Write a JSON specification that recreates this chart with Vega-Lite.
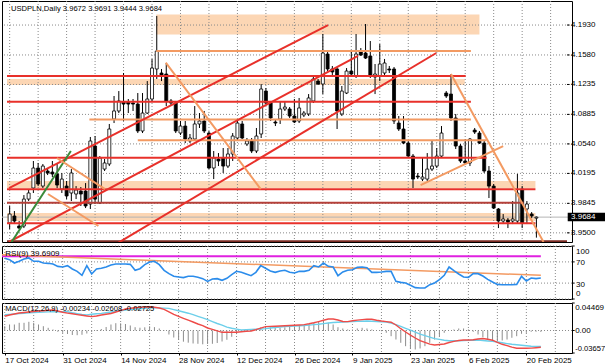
{
"$schema": "https://vega.github.io/schema/vega-lite/v6.json",
"padding": 0,
"background": "white",
"spacing": 2,
"resolve": {"scale": {"color": "independent", "strokeWidth": "independent"}},
"config": {
  "view": {"stroke": "#000000", "strokeWidth": 1},
  "axis": {"labelFont": "Liberation Sans", "labelFontSize": 8, "labelColor": "#000000", "domain": false, "tickColor": "#000000", "grid": false, "labelOverlap": false},
  "text": {"font": "Liberation Sans", "fontSize": 8, "color": "#000000"}
},
"datasets": {
  "bars": [
    {"i":0,"o":3.9615,"h":3.9814,"l":3.9544,"c":3.9720,"rsi":76.8,"macd":0.02324,"sig":0.02551,"hist":0.00699},
    {"i":1,"o":3.9697,"h":3.9755,"l":3.9603,"c":3.9638,"rsi":74.2,"macd":0.02519,"sig":0.02616,"hist":0.00975},
    {"i":2,"o":3.9580,"h":3.9638,"l":3.9544,"c":3.9556,"rsi":67.9,"macd":0.02681,"sig":0.02681,"hist":0.00975},
    {"i":3,"o":3.9580,"h":3.9942,"l":3.9556,"c":3.9895,"rsi":71.1,"macd":0.02844,"sig":0.02763,"hist":0.01251},
    {"i":4,"o":3.9895,"h":4.0012,"l":3.9872,"c":3.9966,"rsi":75.5,"macd":0.02925,"sig":0.02811,"hist":0.01251},
    {"i":5,"o":4.0024,"h":4.0340,"l":3.9966,"c":4.0258,"rsi":77.4,"macd":0.03006,"sig":0.0286,"hist":0.01414},
    {"i":6,"o":4.0258,"h":4.0317,"l":4.0047,"c":4.0071,"rsi":71.1,"macd":0.03088,"sig":0.02909,"hist":0.01251},
    {"i":7,"o":4.0047,"h":4.0305,"l":4.0024,"c":4.0281,"rsi":71.1,"macd":0.03169,"sig":0.02941,"hist":0.00975},
    {"i":8,"o":4.0223,"h":4.0258,"l":4.0176,"c":4.0200,"rsi":67.9,"macd":0.03218,"sig":0.0299,"hist":0.00699},
    {"i":9,"o":4.0211,"h":4.0340,"l":4.0153,"c":4.0188,"rsi":67.3,"macd":0.03283,"sig":0.03023,"hist":0.00439},
    {"i":10,"o":4.0188,"h":4.0317,"l":4.0024,"c":4.0059,"rsi":66.0,"macd":0.03331,"sig":0.03055,"hist":0.00163},
    {"i":11,"o":4.0012,"h":4.0200,"l":3.9966,"c":4.0129,"rsi":61.6,"macd":0.03169,"sig":0.03055,"hist":-0.00211},
    {"i":12,"o":4.0047,"h":4.0106,"l":3.9895,"c":3.9931,"rsi":60.4,"macd":0.02958,"sig":0.03055,"hist":-0.00374},
    {"i":13,"o":3.9966,"h":4.0246,"l":3.9872,"c":4.0200,"rsi":62.9,"macd":0.02828,"sig":0.03055,"hist":-0.00569},
    {"i":14,"o":3.9954,"h":4.0047,"l":3.9895,"c":4.0001,"rsi":56.6,"macd":0.02714,"sig":0.02876,"hist":-0.00731},
    {"i":15,"o":3.9989,"h":4.0036,"l":3.9814,"c":3.9954,"rsi":52.2,"macd":0.02584,"sig":0.0273,"hist":-0.00764},
    {"i":16,"o":3.9989,"h":4.0082,"l":3.9790,"c":3.9814,"rsi":44.7,"macd":0.0247,"sig":0.026,"hist":-0.00699},
    {"i":17,"o":3.9837,"h":4.0621,"l":3.9779,"c":4.0574,"rsi":62.9,"macd":0.02356,"sig":0.02535,"hist":-0.00488},
    {"i":18,"o":4.0515,"h":4.0632,"l":3.9837,"c":3.9895,"rsi":47.2,"macd":0.02259,"sig":0.02633,"hist":-0.00244},
    {"i":19,"o":3.9849,"h":4.0398,"l":3.9837,"c":4.0375,"rsi":56.6,"macd":0.02356,"sig":0.02714,"hist":-0.00081},
    {"i":20,"o":4.0246,"h":4.0363,"l":4.0223,"c":4.0317,"rsi":57.9,"macd":0.02519,"sig":0.02779,"hist":0.00244},
    {"i":21,"o":4.0305,"h":4.0773,"l":4.0281,"c":4.0714,"rsi":60.4,"macd":0.02649,"sig":0.02893,"hist":0.00569},
    {"i":22,"o":4.0831,"h":4.1100,"l":4.0784,"c":4.0925,"rsi":64.1,"macd":0.02763,"sig":0.03006,"hist":0.00975},
    {"i":23,"o":4.0925,"h":4.1158,"l":4.0901,"c":4.1042,"rsi":66.0,"macd":0.03006,"sig":0.0312,"hist":0.01186},
    {"i":24,"o":4.1030,"h":4.1369,"l":4.0808,"c":4.1006,"rsi":66.0,"macd":0.03218,"sig":0.03218,"hist":0.0117},
    {"i":25,"o":4.1030,"h":4.1065,"l":4.0901,"c":4.1006,"rsi":66.0,"macd":0.03494,"sig":0.03331,"hist":0.01056},
    {"i":26,"o":4.1018,"h":4.1065,"l":4.0925,"c":4.1006,"rsi":65.4,"macd":0.03624,"sig":0.03413,"hist":0.00813},
    {"i":27,"o":4.1006,"h":4.1135,"l":4.0667,"c":4.0691,"rsi":54.1,"macd":0.03689,"sig":0.03494,"hist":0.00536},
    {"i":28,"o":4.0691,"h":4.1135,"l":4.0667,"c":4.0901,"rsi":57.2,"macd":0.03754,"sig":0.03543,"hist":0.00455},
    {"i":29,"o":4.0901,"h":4.1275,"l":4.0890,"c":4.1065,"rsi":64.8,"macd":0.03819,"sig":0.03608,"hist":0.0052},
    {"i":30,"o":4.1065,"h":4.1533,"l":4.1042,"c":4.1427,"rsi":69.8,"macd":0.03868,"sig":0.03673,"hist":0.00683},
    {"i":31,"o":4.1416,"h":4.2036,"l":4.1299,"c":4.1626,"rsi":71.1,"macd":0.0377,"sig":0.03689,"hist":0.00553},
    {"i":32,"o":4.1369,"h":4.1416,"l":4.1275,"c":4.1334,"rsi":64.8,"macd":0.03656,"sig":0.03673,"hist":0.00325},
    {"i":33,"o":4.1357,"h":4.1486,"l":4.0983,"c":4.1042,"rsi":54.1,"macd":0.03445,"sig":0.0364,"hist":-0.00081},
    {"i":34,"o":4.1042,"h":4.1065,"l":4.0983,"c":4.1018,"rsi":47.8,"macd":0.03039,"sig":0.03591,"hist":-0.0065},
    {"i":35,"o":4.1018,"h":4.1042,"l":4.0667,"c":4.0691,"rsi":42.8,"macd":0.02616,"sig":0.03396,"hist":-0.01138},
    {"i":36,"o":4.0667,"h":4.0808,"l":4.0644,"c":4.0749,"rsi":41.5,"macd":0.02308,"sig":0.03201,"hist":-0.01544},
    {"i":37,"o":4.0749,"h":4.0808,"l":4.0550,"c":4.0597,"rsi":40.3,"macd":0.01983,"sig":0.03006,"hist":-0.0182},
    {"i":38,"o":4.0574,"h":4.0656,"l":4.0550,"c":4.0609,"rsi":42.8,"macd":0.01674,"sig":0.02811,"hist":-0.01983},
    {"i":39,"o":4.0597,"h":4.0983,"l":4.0574,"c":4.0773,"rsi":42.8,"macd":0.01381,"sig":0.02568,"hist":-0.02113},
    {"i":40,"o":4.0773,"h":4.0901,"l":4.0726,"c":4.0808,"rsi":40.9,"macd":0.01056,"sig":0.02308,"hist":-0.02161},
    {"i":41,"o":4.0808,"h":4.0925,"l":4.0667,"c":4.0691,"rsi":38.4,"macd":0.0078,"sig":0.02048,"hist":-0.02243},
    {"i":42,"o":4.0667,"h":4.0691,"l":4.0246,"c":4.0258,"rsi":33.3,"macd":0.00406,"sig":0.01771,"hist":-0.02194},
    {"i":43,"o":4.0258,"h":4.0457,"l":4.0129,"c":4.0375,"rsi":37.7,"macd":0.00179,"sig":0.01446,"hist":-0.02161},
    {"i":44,"o":4.0363,"h":4.0433,"l":4.0281,"c":4.0340,"rsi":38.4,"macd":-0.00065,"sig":0.01138,"hist":-0.02031},
    {"i":45,"o":4.0375,"h":4.0492,"l":4.0200,"c":4.0281,"rsi":35.2,"macd":-0.00293,"sig":0.00861,"hist":-0.01788},
    {"i":46,"o":4.0281,"h":4.0492,"l":4.0258,"c":4.0422,"rsi":39.0,"macd":-0.00293,"sig":0.00553,"hist":-0.01511},
    {"i":47,"o":4.0422,"h":4.0667,"l":4.0340,"c":4.0632,"rsi":45.9,"macd":-0.00293,"sig":0.00374,"hist":-0.01024},
    {"i":48,"o":4.0609,"h":4.0808,"l":4.0574,"c":4.0784,"rsi":52.2,"macd":-0.00276,"sig":0.00228,"hist":-0.00601},
    {"i":49,"o":4.0773,"h":4.0808,"l":4.0597,"c":4.0609,"rsi":50.3,"macd":-0.00211,"sig":0.00081,"hist":-0.00244},
    {"i":50,"o":4.0539,"h":4.0609,"l":4.0515,"c":4.0574,"rsi":47.2,"macd":-0.0013,"sig":0.00114,"hist":-0.00211},
    {"i":51,"o":4.0574,"h":4.0609,"l":4.0433,"c":4.0457,"rsi":44.0,"macd":-0.00081,"sig":0.00163,"hist":-0.00114},
    {"i":52,"o":4.0457,"h":4.0726,"l":4.0433,"c":4.0632,"rsi":50.3,"macd":0.0013,"sig":0.00195,"hist":0.00244},
    {"i":53,"o":4.0656,"h":4.1240,"l":4.0609,"c":4.1182,"rsi":62.9,"macd":0.00374,"sig":0.00244,"hist":0.00488},
    {"i":54,"o":4.1158,"h":4.1194,"l":4.1006,"c":4.1018,"rsi":57.9,"macd":0.00634,"sig":0.00309,"hist":0.00536},
    {"i":55,"o":4.1018,"h":4.1042,"l":4.0808,"c":4.0843,"rsi":52.9,"macd":0.00666,"sig":0.00406,"hist":0.00536},
    {"i":56,"o":4.0796,"h":4.0831,"l":4.0749,"c":4.0784,"rsi":50.3,"macd":0.00699,"sig":0.00488,"hist":0.00439},
    {"i":57,"o":4.0831,"h":4.1042,"l":4.0773,"c":4.0948,"rsi":52.9,"macd":0.00731,"sig":0.00569,"hist":0.00439},
    {"i":58,"o":4.0948,"h":4.1042,"l":4.0925,"c":4.0971,"rsi":54.1,"macd":0.0078,"sig":0.00634,"hist":0.0052},
    {"i":59,"o":4.0948,"h":4.0971,"l":4.0843,"c":4.0866,"rsi":50.3,"macd":0.00813,"sig":0.00666,"hist":0.00683},
    {"i":60,"o":4.0866,"h":4.1065,"l":4.0784,"c":4.0796,"rsi":49.1,"macd":0.00845,"sig":0.00715,"hist":0.00699},
    {"i":61,"o":4.0808,"h":4.1077,"l":4.0784,"c":4.0960,"rsi":52.2,"macd":0.00894,"sig":0.00764,"hist":0.00731},
    {"i":62,"o":4.0878,"h":4.0925,"l":4.0854,"c":4.0901,"rsi":52.2,"macd":0.00959,"sig":0.00813,"hist":0.00975},
    {"i":63,"o":4.0890,"h":4.1123,"l":4.0866,"c":4.1077,"rsi":54.1,"macd":0.01089,"sig":0.00878,"hist":0.01089},
    {"i":64,"o":4.1042,"h":4.1334,"l":4.1018,"c":4.1299,"rsi":62.9,"macd":0.01251,"sig":0.00959,"hist":0.01251},
    {"i":65,"o":4.1275,"h":4.1299,"l":4.1229,"c":4.1240,"rsi":60.4,"macd":0.01446,"sig":0.01024,"hist":0.01414},
    {"i":66,"o":4.1240,"h":4.1825,"l":4.1123,"c":4.1603,"rsi":67.9,"macd":0.01658,"sig":0.01121,"hist":0.01414},
    {"i":67,"o":4.1591,"h":4.1626,"l":4.1392,"c":4.1416,"rsi":61.6,"macd":0.01869,"sig":0.01219,"hist":0.01251},
    {"i":68,"o":4.1416,"h":4.1451,"l":4.1334,"c":4.1381,"rsi":60.4,"macd":0.01869,"sig":0.013,"hist":0.00975},
    {"i":69,"o":4.1416,"h":4.1439,"l":4.0714,"c":4.0925,"rsi":44.0,"macd":0.01706,"sig":0.01349,"hist":0.00536},
    {"i":70,"o":4.0890,"h":4.1217,"l":4.0866,"c":4.1158,"rsi":51.0,"macd":0.01463,"sig":0.01381,"hist":0.00325},
    {"i":71,"o":4.1135,"h":4.1427,"l":4.1123,"c":4.1392,"rsi":54.1,"macd":0.01446,"sig":0.01398,"hist":0.00163},
    {"i":72,"o":4.1392,"h":4.1626,"l":4.1334,"c":4.1357,"rsi":55.3,"macd":0.01576,"sig":0.01446,"hist":0.00163},
    {"i":73,"o":4.1334,"h":4.1825,"l":4.1311,"c":4.1591,"rsi":59.7,"macd":0.0169,"sig":0.01479,"hist":0.00325},
    {"i":74,"o":4.1615,"h":4.1661,"l":4.1568,"c":4.1579,"rsi":60.4,"macd":0.01771,"sig":0.01511,"hist":0.00439},
    {"i":75,"o":4.1603,"h":4.1942,"l":4.1533,"c":4.1544,"rsi":59.1,"macd":0.01853,"sig":0.01544,"hist":0.00325},
    {"i":76,"o":4.1568,"h":4.1743,"l":4.1311,"c":4.1334,"rsi":50.3,"macd":0.01836,"sig":0.01511,"hist":0.00163},
    {"i":77,"o":4.1322,"h":4.1474,"l":4.1123,"c":4.1357,"rsi":50.3,"macd":0.01674,"sig":0.01463,"hist":0.0},
    {"i":78,"o":4.1334,"h":4.1708,"l":4.1275,"c":4.1474,"rsi":51.0,"macd":0.01544,"sig":0.01414,"hist":-0.00114},
    {"i":79,"o":4.1369,"h":4.1533,"l":4.1334,"c":4.1486,"rsi":52.2,"macd":0.01446,"sig":0.01365,"hist":-0.00374},
    {"i":80,"o":4.1416,"h":4.1451,"l":4.1369,"c":4.1404,"rsi":52.2,"macd":0.01349,"sig":0.01203,"hist":-0.00926},
    {"i":81,"o":4.1416,"h":4.1439,"l":4.0773,"c":4.0808,"rsi":33.3,"macd":0.00894,"sig":0.00943,"hist":-0.01463},
    {"i":82,"o":4.0784,"h":4.0866,"l":4.0691,"c":4.0714,"rsi":31.4,"macd":0.00293,"sig":0.00683,"hist":-0.01999},
    {"i":83,"o":4.0714,"h":4.0866,"l":4.0539,"c":4.0550,"rsi":30.2,"macd":-0.00244,"sig":0.00358,"hist":-0.02551},
    {"i":84,"o":4.0550,"h":4.0574,"l":4.0375,"c":4.0398,"rsi":25.8,"macd":-0.00748,"sig":0.00049,"hist":-0.02925},
    {"i":85,"o":4.0398,"h":4.0422,"l":4.0024,"c":4.0129,"rsi":21.4,"macd":-0.01219,"sig":-0.00276,"hist":-0.03088},
    {"i":86,"o":4.0164,"h":4.0200,"l":4.0129,"c":4.0153,"rsi":20.8,"macd":-0.01641,"sig":-0.00585,"hist":-0.02925},
    {"i":87,"o":4.0129,"h":4.0375,"l":4.0106,"c":4.0153,"rsi":20.8,"macd":-0.01934,"sig":-0.00845,"hist":-0.02551},
    {"i":88,"o":4.0129,"h":4.0433,"l":4.0106,"c":4.0246,"rsi":27.0,"macd":-0.02226,"sig":-0.01089,"hist":-0.01999},
    {"i":89,"o":4.0246,"h":4.0574,"l":4.0223,"c":4.0281,"rsi":30.2,"macd":-0.02356,"sig":-0.01316,"hist":-0.01463},
    {"i":90,"o":4.0281,"h":4.0492,"l":4.0258,"c":4.0398,"rsi":36.5,"macd":-0.02275,"sig":-0.01446,"hist":-0.00926},
    {"i":91,"o":4.0398,"h":4.0749,"l":4.0375,"c":4.0667,"rsi":44.7,"macd":-0.02194,"sig":-0.01576,"hist":-0.00374},
    {"i":92,"o":4.1135,"h":4.1158,"l":4.1077,"c":4.1100,"rsi":60.4,"macd":-0.0195,"sig":-0.01658,"hist":0.0},
    {"i":93,"o":4.1123,"h":4.1357,"l":4.0808,"c":4.0843,"rsi":53.5,"macd":-0.01771,"sig":-0.01658,"hist":0.00163},
    {"i":94,"o":4.0843,"h":4.0890,"l":4.0480,"c":4.0515,"rsi":47.2,"macd":-0.01625,"sig":-0.01658,"hist":0.00325},
    {"i":95,"o":4.0515,"h":4.0539,"l":4.0317,"c":4.0340,"rsi":41.5,"macd":-0.01544,"sig":-0.01641,"hist":0.00325},
    {"i":96,"o":4.0340,"h":4.0597,"l":4.0305,"c":4.0317,"rsi":40.9,"macd":-0.01544,"sig":-0.01609,"hist":0.00163},
    {"i":97,"o":4.0317,"h":4.0609,"l":4.0281,"c":4.0597,"rsi":47.8,"macd":-0.01511,"sig":-0.01576,"hist":-0.00211},
    {"i":98,"o":4.0702,"h":4.0726,"l":4.0656,"c":4.0679,"rsi":47.8,"macd":-0.01381,"sig":-0.01544,"hist":-0.0065},
    {"i":99,"o":4.0667,"h":4.0691,"l":4.0539,"c":4.0550,"rsi":43.4,"macd":-0.013,"sig":-0.01625,"hist":-0.01089},
    {"i":100,"o":4.0550,"h":4.0574,"l":4.0200,"c":4.0223,"rsi":37.1,"macd":-0.0143,"sig":-0.01706,"hist":-0.01463},
    {"i":101,"o":4.0223,"h":4.0281,"l":3.9907,"c":4.0047,"rsi":32.0,"macd":-0.01576,"sig":-0.01771,"hist":-0.01625},
    {"i":102,"o":4.0047,"h":4.0071,"l":3.9779,"c":3.9790,"rsi":27.6,"macd":-0.01918,"sig":-0.01869,"hist":-0.01739},
    {"i":103,"o":3.9779,"h":3.9790,"l":3.9556,"c":3.9638,"rsi":27.0,"macd":-0.02243,"sig":-0.01999,"hist":-0.01625},
    {"i":104,"o":3.9638,"h":3.9720,"l":3.9603,"c":3.9662,"rsi":27.0,"macd":-0.02454,"sig":-0.02129,"hist":-0.01463},
    {"i":105,"o":3.9650,"h":3.9673,"l":3.9556,"c":3.9626,"rsi":27.0,"macd":-0.02714,"sig":-0.02243,"hist":-0.01186},
    {"i":106,"o":3.9638,"h":3.9872,"l":3.9603,"c":3.9662,"rsi":27.6,"macd":-0.02893,"sig":-0.02324,"hist":-0.00926},
    {"i":107,"o":3.9638,"h":4.0188,"l":3.9615,"c":3.9966,"rsi":42.8,"macd":-0.02893,"sig":-0.02405,"hist":-0.00536},
    {"i":108,"o":4.0012,"h":4.0047,"l":3.9556,"c":3.9615,"rsi":34.0,"macd":-0.02893,"sig":-0.02486,"hist":-0.00374},
    {"i":109,"o":3.9779,"h":3.9872,"l":3.9603,"c":3.9837,"rsi":39.6,"macd":-0.0286,"sig":-0.02551,"hist":-0.00211},
    {"i":110,"o":3.9720,"h":3.9743,"l":3.9673,"c":3.9697,"rsi":38.4,"macd":-0.02795,"sig":-0.02584,"hist":-0.00211},
    {"i":111,"o":3.9672,"h":3.9691,"l":3.9444,"c":3.9684,"rsi":39.6909,"macd":-0.02725,"sig":-0.02608,"hist":-0.00234}
  ],
  "bands": [
    {"x1":30.9,"x2":99.0,"p1":4.2053,"p2":4.1819},
    {"x1":-0.56,"x2":95.9,"p1":4.1299,"p2":4.1229},
    {"x1":-0.56,"x2":110.8,"p1":4.0106,"p2":4.0024},
    {"x1":-0.56,"x2":110.8,"p1":3.9732,"p2":3.9638}
  ],
  "lines": [
    {"kind":"red","x1":-0.56,"p1":4.1334,"x2":96.1,"p2":4.1334},
    {"kind":"red","x1":-0.56,"p1":4.1033,"x2":97.2,"p2":4.1033},
    {"kind":"red","x1":-0.56,"p1":4.0378,"x2":100.5,"p2":4.0378},
    {"kind":"red","x1":-0.56,"p1":4.0009,"x2":110.8,"p2":4.0009},
    {"kind":"darkred","x1":-0.56,"p1":3.9852,"x2":108.3,"p2":3.9852},
    {"kind":"red","x1":-0.56,"p1":3.9611,"x2":110.8,"p2":3.9611},
    {"kind":"brown","x1":-0.56,"p1":3.9403,"x2":117.45,"p2":3.9403},
    {"kind":"orange","x1":30.9,"p1":4.1626,"x2":97.2,"p2":4.1626},
    {"kind":"orange","x1":16.8,"p1":4.0826,"x2":97.2,"p2":4.0826},
    {"kind":"orange","x1":27.0,"p1":4.0582,"x2":100.5,"p2":4.0582},
    {"kind":"red","x1":-0.14,"p1":4.0024,"x2":67.1,"p2":4.1930},
    {"kind":"red","x1":-0.14,"p1":3.9393,"x2":73.4,"p2":4.1568},
    {"kind":"red","x1":22.8,"p1":3.9381,"x2":89.9,"p2":4.1603},
    {"kind":"green","x1":0.27,"p1":3.9381,"x2":12.9,"p2":4.0457},
    {"kind":"orange","x1":32.9,"p1":4.1490,"x2":52.9,"p2":4.0012},
    {"kind":"orange","x1":9.94,"p1":4.0375,"x2":20.1,"p2":4.0012},
    {"kind":"orange","x1":8.07,"p1":3.9954,"x2":18.7,"p2":3.9580},
    {"kind":"orange","x1":93.0,"p1":4.1357,"x2":112.5,"p2":3.9393},
    {"kind":"orange","x1":86.6,"p1":4.0059,"x2":104.0,"p2":4.0515}
  ],
  "rsiLines": [
    {"kind":"magenta","x1":-0.56,"v1":80.6,"x2":111,"v2":80.6},
    {"kind":"orange","x1":-0.56,"v1":83.6,"x2":111,"v2":44.7}
  ],
  "vgrid": [{"k":0},{"k":6},{"k":12},{"k":18},{"k":24},{"k":30},{"k":36},{"k":42},{"k":48},{"k":54},{"k":60},{"k":66},{"k":72},{"k":78},{"k":84},{"k":90},{"k":96},{"k":102},{"k":108},{"k":114}],
  "priceTicks": [
    {"v":4.193,"label":"4.1930"},{"v":4.158,"label":"4.1580"},{"v":4.1235,"label":"4.1235"},{"v":4.0885,"label":"4.0885"},
    {"v":4.054,"label":"4.0540"},{"v":4.0195,"label":"4.0195"},{"v":3.9845,"label":"3.9845"},{"v":3.95,"label":"3.9500"}
  ],
  "rsiTicks": [{"v":100,"label":"100","pos":"top"},{"v":70,"label":"70","pos":"mid"},{"v":30,"label":"30","pos":"mid"},{"v":0,"label":"0","pos":"bottom"}],
  "macdTicks": [{"v":0.04469,"label":"0.04469","pos":"top"},{"v":0,"label":"0.00","pos":"mid"},{"v":-0.03657,"label":"-0.03657","pos":"bottom"}]
},
"vconcat": [
  {
    "width": 570,
    "height": 241,
    "layer": [
      {
        "data": {"name": "bands"},
        "mark": {"type": "rect", "color": "#FCD6B4"},
        "encoding": {
          "x": {"field": "x1", "type": "quantitative", "axis": null, "scale": {"domain": [-0.56, 117.45], "nice": false, "zero": false}},
          "x2": {"field": "x2"},
          "y": {"field": "p1", "type": "quantitative", "axis": null, "scale": {"domain": [3.9393, 4.2211], "nice": false, "zero": false}},
          "y2": {"field": "p2"}
        }
      },
      {
        "data": {"name": "vgrid"},
        "mark": {"type": "rule", "color": "#8A8A8A", "strokeWidth": 1, "strokeDash": [1, 2]},
        "encoding": {"x": {"field": "k", "type": "quantitative", "axis": null}}
      },
      {
        "data": {"name": "priceTicks"},
        "mark": {"type": "rule", "color": "#8A8A8A", "strokeWidth": 1, "strokeDash": [1, 2]},
        "encoding": {"y": {"field": "v", "type": "quantitative", "axis": null}}
      },
      {
        "data": {"values": [{}]},
        "mark": {"type": "rule", "color": "#B4B4B4", "strokeWidth": 1},
        "encoding": {"y": {"datum": 3.9684, "type": "quantitative", "axis": null}}
      },
      {
        "data": {"name": "bars"},
        "mark": {"type": "rule", "color": "#000000", "strokeWidth": 1},
        "encoding": {
          "x": {"field": "i", "type": "quantitative", "axis": null},
          "y": {"field": "l", "type": "quantitative", "axis": null},
          "y2": {"field": "h"}
        }
      },
      {
        "data": {"name": "bars"},
        "mark": {"type": "bar", "size": 3, "stroke": "#000000", "strokeWidth": 0.8},
        "encoding": {
          "x": {"field": "i", "type": "quantitative", "axis": null},
          "y": {"field": "o", "type": "quantitative", "axis": null},
          "y2": {"field": "c"},
          "fill": {"condition": {"test": "datum.c < datum.o", "value": "#000000"}, "value": "#FFFFFF"}
        }
      },
      {
        "data": {"name": "lines"},
        "mark": {"type": "rule", "clip": true},
        "encoding": {
          "x": {"field": "x1", "type": "quantitative", "axis": null},
          "x2": {"field": "x2"},
          "y": {"field": "p1", "type": "quantitative", "axis": null},
          "y2": {"field": "p2"},
          "color": {"field": "kind", "type": "nominal", "scale": {"domain": ["red", "darkred", "brown", "orange", "green"], "range": ["#E8302A", "#B5403A", "#7A2A22", "#F39A62", "#3A8A3A"]}, "legend": null},
          "strokeWidth": {"field": "kind", "type": "ordinal", "scale": {"domain": ["red", "darkred", "brown", "orange", "green"], "range": [2, 2, 3, 1.3, 1]}, "legend": null}
        }
      },
      {
        "data": {"name": "priceTicks"},
        "mark": {"type": "rule", "color": "#000000", "strokeWidth": 1, "clip": false},
        "encoding": {
          "x": {"datum": 117.45, "type": "quantitative", "axis": null},
          "x2": {"datum": 118.0},
          "y": {"field": "v", "type": "quantitative", "axis": null}
        }
      },
      {
        "data": {"name": "priceTicks"},
        "mark": {"type": "text", "align": "left", "baseline": "middle", "clip": false},
        "encoding": {
          "x": {"datum": 118.3, "type": "quantitative", "axis": null},
          "y": {"field": "v", "type": "quantitative", "axis": null},
          "text": {"field": "label"}
        }
      },
      {
        "data": {"values": [{}]},
        "mark": {"type": "rect", "color": "#000000", "clip": false},
        "encoding": {
          "x": {"datum": 117.6, "type": "quantitative", "axis": null},
          "x2": {"datum": 125.5},
          "y": {"datum": 3.9735, "type": "quantitative", "axis": null},
          "y2": {"datum": 3.9635}
        }
      },
      {
        "data": {"values": [{}]},
        "mark": {"type": "text", "text": "3.9684", "color": "#FFFFFF", "align": "left", "baseline": "middle", "clip": false},
        "encoding": {
          "x": {"datum": 118.3, "type": "quantitative", "axis": null},
          "y": {"datum": 3.9684, "type": "quantitative", "axis": null}
        }
      },
      {
        "data": {"values": [{}]},
        "mark": {"type": "text", "text": "USDPLN,Daily  3.9672 3.9691 3.9444 3.9684", "fontSize": 7.6, "align": "left", "baseline": "alphabetic"},
        "encoding": {
          "x": {"datum": 0.27, "type": "quantitative", "axis": null},
          "y": {"datum": 4.2094, "type": "quantitative", "axis": null}
        }
      }
    ]
  },
  {
    "width": 570,
    "height": 53,
    "layer": [
      {
        "data": {"name": "vgrid"},
        "mark": {"type": "rule", "color": "#8A8A8A", "strokeWidth": 1, "strokeDash": [1, 2]},
        "encoding": {"x": {"field": "k", "type": "quantitative", "axis": null, "scale": {"domain": [-0.56, 117.45], "nice": false, "zero": false}}}
      },
      {
        "data": {"name": "rsiTicks"},
        "mark": {"type": "rule", "color": "#8A8A8A", "strokeWidth": 1, "strokeDash": [1, 2]},
        "encoding": {"y": {"field": "v", "type": "quantitative", "axis": null, "scale": {"domain": [0, 100], "nice": false, "zero": false}}}
      },
      {
        "data": {"name": "rsiLines"},
        "mark": {"type": "rule"},
        "encoding": {
          "x": {"field": "x1", "type": "quantitative", "axis": null},
          "x2": {"field": "x2"},
          "y": {"field": "v1", "type": "quantitative", "axis": null},
          "y2": {"field": "v2"},
          "color": {"field": "kind", "type": "nominal", "scale": {"domain": ["magenta", "orange"], "range": ["#E020E0", "#F39A62"]}, "legend": null},
          "strokeWidth": {"field": "kind", "type": "ordinal", "scale": {"domain": ["magenta", "orange"], "range": [2, 1.5]}, "legend": null}
        }
      },
      {
        "data": {"name": "bars"},
        "mark": {"type": "line", "color": "#2B8CEB", "strokeWidth": 1.6},
        "encoding": {
          "x": {"field": "i", "type": "quantitative", "axis": null},
          "y": {"field": "rsi", "type": "quantitative", "axis": null}
        }
      },
      {
        "data": {"values": [{}]},
        "mark": {"type": "text", "text": "RSI(9) 39.6909", "align": "left", "baseline": "alphabetic"},
        "encoding": {
          "x": {"datum": 0.12, "type": "quantitative", "axis": null},
          "y": {"datum": 82, "type": "quantitative", "axis": null}
        }
      },
      {
        "data": {"name": "rsiTicks"},
        "mark": {"type": "rule", "color": "#000000", "strokeWidth": 1, "clip": false},
        "encoding": {
          "x": {"datum": 117.45, "type": "quantitative", "axis": null},
          "x2": {"datum": 118.0},
          "y": {"field": "v", "type": "quantitative", "axis": null}
        }
      },
      {
        "data": {"name": "rsiTicks"},
        "transform": [{"filter": "datum.pos === 'top'"}],
        "mark": {"type": "text", "align": "left", "baseline": "top", "dy": 2, "clip": false},
        "encoding": {
          "x": {"datum": 118.3, "type": "quantitative", "axis": null},
          "y": {"field": "v", "type": "quantitative", "axis": null},
          "text": {"field": "label"}
        }
      },
      {
        "data": {"name": "rsiTicks"},
        "transform": [{"filter": "datum.pos === 'mid'"}],
        "mark": {"type": "text", "align": "left", "baseline": "middle", "dy": 1.5, "clip": false},
        "encoding": {
          "x": {"datum": 118.3, "type": "quantitative", "axis": null},
          "y": {"field": "v", "type": "quantitative", "axis": null},
          "text": {"field": "label"}
        }
      },
      {
        "data": {"name": "rsiTicks"},
        "transform": [{"filter": "datum.pos === 'bottom'"}],
        "mark": {"type": "text", "align": "left", "baseline": "bottom", "dy": -1, "clip": false},
        "encoding": {
          "x": {"datum": 118.3, "type": "quantitative", "axis": null},
          "y": {"field": "v", "type": "quantitative", "axis": null},
          "text": {"field": "label"}
        }
      }
    ]
  },
  {
    "width": 570,
    "height": 50,
    "layer": [
      {
        "data": {"name": "bars"},
        "mark": {"type": "rule", "color": "#8C8C8C", "strokeWidth": 1},
        "encoding": {
          "x": {"field": "i", "type": "quantitative", "scale": {"domain": [-0.56, 117.45], "nice": false, "zero": false},
                "axis": {"orient": "bottom", "values": [0,12,24,36,48,60,72,84,96,108], "grid": false, "title": null, "tickSize": 2, "labelPadding": 1, "labelAlign": "left", "labelBaseline": "top", "labelBound": false, "labelOverlap": false, "labelFlush": false,
                         "labelExpr": "['17 Oct 2024','31 Oct 2024','14 Nov 2024','28 Nov 2024','12 Dec 2024','26 Dec 2024','9 Jan 2025','23 Jan 2025','6 Feb 2025','20 Feb 2025'][datum.value / 12]"}},
          "y": {"field": "hist", "type": "quantitative", "axis": null, "scale": {"domain": [-0.03657, 0.04469], "nice": false, "zero": false}},
          "y2": {"datum": 0}
        }
      },
      {
        "data": {"name": "vgrid"},
        "mark": {"type": "rule", "color": "#8A8A8A", "strokeWidth": 1, "strokeDash": [1, 2]},
        "encoding": {"x": {"field": "k", "type": "quantitative", "title": null}}
      },
      {
        "data": {"values": [{}]},
        "mark": {"type": "rule", "color": "#8A8A8A", "strokeWidth": 1, "strokeDash": [1, 2]},
        "encoding": {"y": {"datum": 0, "type": "quantitative", "axis": null}}
      },
      {
        "data": {"name": "bars"},
        "mark": {"type": "line", "color": "#6CCFEA", "strokeWidth": 1.4},
        "encoding": {
          "x": {"field": "i", "type": "quantitative", "title": null},
          "y": {"field": "sig", "type": "quantitative", "axis": null}
        }
      },
      {
        "data": {"name": "bars"},
        "mark": {"type": "line", "color": "#EE4B48", "strokeWidth": 1.4},
        "encoding": {
          "x": {"field": "i", "type": "quantitative", "title": null},
          "y": {"field": "macd", "type": "quantitative", "axis": null}
        }
      },
      {
        "data": {"values": [{}]},
        "mark": {"type": "text", "text": "MACD(12,26,9) -0.00234 -0.02608 -0.02725", "fontSize": 7.6, "align": "left", "baseline": "alphabetic"},
        "encoding": {
          "x": {"datum": 0.12, "type": "quantitative", "title": null},
          "y": {"datum": 0.0325, "type": "quantitative", "axis": null}
        }
      },
      {
        "data": {"name": "macdTicks"},
        "mark": {"type": "rule", "color": "#000000", "strokeWidth": 1, "clip": false},
        "encoding": {
          "x": {"datum": 117.45, "type": "quantitative", "title": null},
          "x2": {"datum": 118.0},
          "y": {"field": "v", "type": "quantitative", "axis": null}
        }
      },
      {
        "data": {"name": "macdTicks"},
        "transform": [{"filter": "datum.pos === 'top'"}],
        "mark": {"type": "text", "align": "left", "baseline": "top", "dy": 1, "clip": false},
        "encoding": {
          "x": {"datum": 118.1, "type": "quantitative", "title": null},
          "y": {"field": "v", "type": "quantitative", "axis": null},
          "text": {"field": "label"}
        }
      },
      {
        "data": {"name": "macdTicks"},
        "transform": [{"filter": "datum.pos === 'mid'"}],
        "mark": {"type": "text", "align": "left", "baseline": "middle", "dy": 1, "clip": false},
        "encoding": {
          "x": {"datum": 118.1, "type": "quantitative", "title": null},
          "y": {"field": "v", "type": "quantitative", "axis": null},
          "text": {"field": "label"}
        }
      },
      {
        "data": {"name": "macdTicks"},
        "transform": [{"filter": "datum.pos === 'bottom'"}],
        "mark": {"type": "text", "align": "left", "baseline": "bottom", "dy": 0, "fontSize": 7.6, "clip": false},
        "encoding": {
          "x": {"datum": 118.1, "type": "quantitative", "title": null},
          "y": {"field": "v", "type": "quantitative", "axis": null},
          "text": {"field": "label"}
        }
      }
    ]
  }
]
}
